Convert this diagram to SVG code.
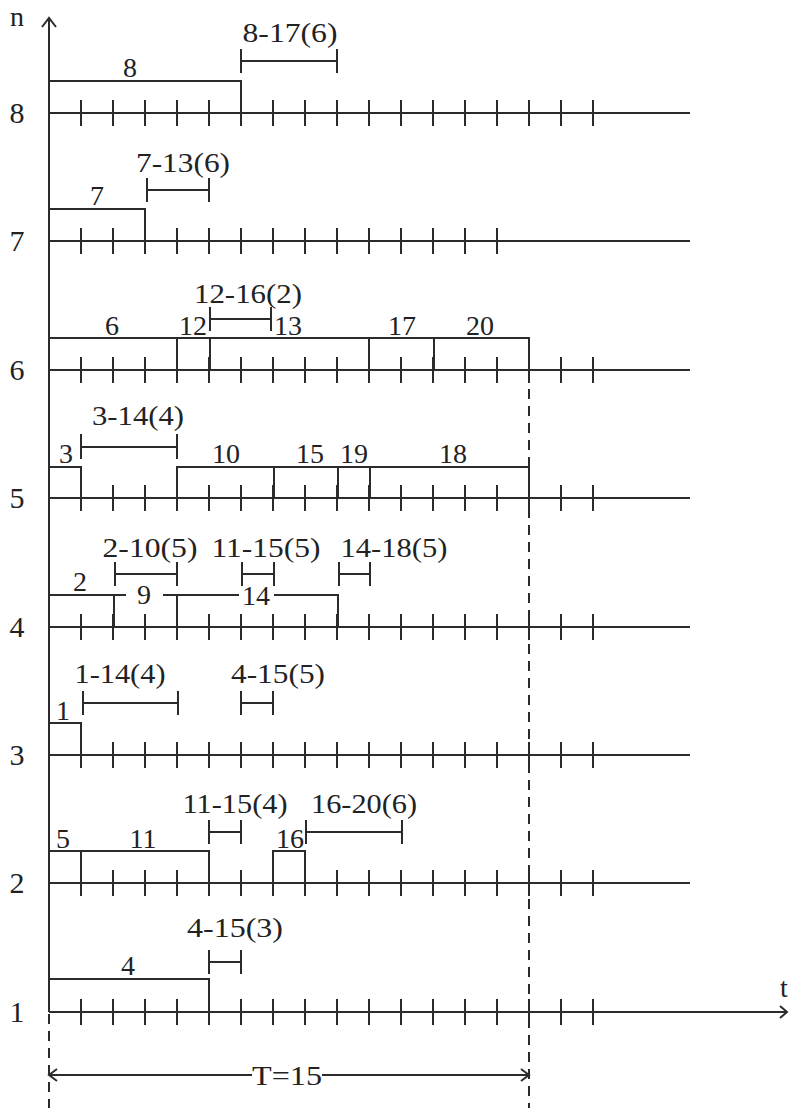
<svg xmlns="http://www.w3.org/2000/svg" width="791" height="1108" viewBox="0 0 791 1108">
<style>
.ln{stroke:#2b2b2b;stroke-width:2;fill:none}
.tk{stroke:#2b2b2b;stroke-width:2;fill:none}
.dash{stroke:#2b2b2b;stroke-width:2;fill:none;stroke-dasharray:10 7}
text{font-family:'Liberation Serif','Times New Roman',serif;fill:#222;font-size:28px}
.m{text-anchor:middle}
.lab{font-size:30px;text-anchor:middle}
</style>
<defs>
<path id="ticks17" class="tk" d="M81 -13V13M113 -13V13M145 -13V13M177 -13V13M209 -13V13M241 -13V13M273 -13V13M305 -13V13M337 -13V13M369 -13V13M401 -13V13M433 -13V13M465 -13V13M497 -13V13M529 -13V13M561 -13V13M593 -13V13"/>
<path id="ticks14" class="tk" d="M81 -13V13M113 -13V13M145 -13V13M177 -13V13M209 -13V13M241 -13V13M273 -13V13M305 -13V13M337 -13V13M369 -13V13M401 -13V13M433 -13V13M465 -13V13M497 -13V13"/>
</defs>
<rect width="791" height="1108" fill="#fff"/>
<g font-family="'Liberation Serif', serif">
<g id="connectors">
  <path class="ln" d="M49 1012V18M42 27L49 18L56 27"/>
  <text x="17" y="26" class="m">n</text>
  <path class="dash" d="M49 1014V1108"/>
  <path class="dash" d="M529 372V1108"/>
  <path class="ln" d="M49 1012H787M780 1006L787 1012L780 1018"/>
  <text x="784" y="997" class="m">t</text>
  <path class="ln" d="M49 1075H252M322 1075H529M57 1069L49 1075L57 1081M521 1069L529 1075L521 1081"/>
  <text x="287" y="1085" class="m" textLength="70" lengthAdjust="spacingAndGlyphs">T=15</text>
</g>

<g id="row8">
  <text x="17" y="123" class="lab">8</text>
  <path class="ln" d="M49 113H690"/>
  <use href="#ticks17" y="113"/>
  <path class="ln" d="M49 113V81H241V113"/>
  <text x="130" y="77" class="m">8</text>
  <path class="ln" d="M241 61H337M241 49V73M337 49V73"/>
  <text x="290" y="42" class="m" textLength="95" lengthAdjust="spacingAndGlyphs">8-17(6)</text>
</g>

<g id="row7">
  <text x="17" y="251" class="lab">7</text>
  <path class="ln" d="M49 241H690"/>
  <use href="#ticks14" y="241"/>
  <path class="ln" d="M49 241V209H145V241"/>
  <text x="97" y="205" class="m">7</text>
  <path class="ln" d="M147 190H209M147 178V202M209 178V202"/>
  <text x="183" y="172" class="m" textLength="94" lengthAdjust="spacingAndGlyphs">7-13(6)</text>
</g>

<g id="row6">
  <text x="17" y="380" class="lab">6</text>
  <path class="ln" d="M49 370H690"/>
  <use href="#ticks17" y="370"/>
  <path class="ln" d="M49 370V338H529V370M177 338V370M210 338V370M369 338V370M434 338V370"/>
  <text x="112" y="335" class="m">6</text>
  <text x="193" y="335" class="m">12</text>
  <text x="288" y="335" class="m">13</text>
  <text x="402" y="335" class="m">17</text>
  <text x="480" y="335" class="m">20</text>
  <path class="ln" d="M210 319H271M210 307V331M271 307V331"/>
  <text x="248" y="303" class="m" textLength="108" lengthAdjust="spacingAndGlyphs">12-16(2)</text>
</g>

<g id="row5">
  <text x="17" y="508" class="lab">5</text>
  <path class="ln" d="M49 498H690"/>
  <use href="#ticks17" y="498"/>
  <path class="ln" d="M49 498V467H81V498"/>
  <path class="ln" d="M177 498V467H529V498M274 467V498M338 467V498M370 467V498"/>
  <text x="66" y="463" class="m">3</text>
  <text x="226" y="463" class="m">10</text>
  <text x="310" y="463" class="m">15</text>
  <text x="354" y="463" class="m">19</text>
  <text x="453" y="463" class="m">18</text>
  <path class="ln" d="M81 447H177M81 434V459M177 434V459"/>
  <text x="138" y="425" class="m" textLength="92" lengthAdjust="spacingAndGlyphs">3-14(4)</text>
</g>

<g id="row4">
  <text x="17" y="637" class="lab">4</text>
  <path class="ln" d="M49 627H690"/>
  <use href="#ticks17" y="627"/>
  <path class="ln" d="M49 627V595H126M163 595H239M274 595H338V627M114 595V627M177 595V627"/>
  <text x="80" y="591" class="m">2</text>
  <text x="144" y="604" class="m">9</text>
  <text x="256" y="605" class="m">14</text>
  <path class="ln" d="M115 574H177M115 562V586M177 562V586"/>
  <path class="ln" d="M242 574H274M242 562V586M274 562V586"/>
  <path class="ln" d="M339 574H370M339 562V586M370 562V586"/>
  <text x="150" y="557" class="m" textLength="95" lengthAdjust="spacingAndGlyphs">2-10(5)</text>
  <text x="266" y="557" class="m" textLength="109" lengthAdjust="spacingAndGlyphs">11-15(5)</text>
  <text x="394" y="557" class="m" textLength="107" lengthAdjust="spacingAndGlyphs">14-18(5)</text>
</g>

<g id="row3">
  <text x="17" y="765" class="lab">3</text>
  <path class="ln" d="M49 755H690"/>
  <use href="#ticks17" y="755"/>
  <path class="ln" d="M49 755V723H81V755"/>
  <text x="63" y="720" class="m">1</text>
  <path class="ln" d="M83 703H178M83 691V715M178 691V715"/>
  <path class="ln" d="M241 703H273M241 691V715M273 691V715"/>
  <text x="120" y="683" class="m" textLength="91" lengthAdjust="spacingAndGlyphs">1-14(4)</text>
  <text x="278" y="683" class="m" textLength="94" lengthAdjust="spacingAndGlyphs">4-15(5)</text>
</g>

<g id="row2">
  <text x="17" y="893" class="lab">2</text>
  <path class="ln" d="M49 883H690"/>
  <use href="#ticks17" y="883"/>
  <path class="ln" d="M49 883V851H209V883M81 851V883"/>
  <path class="ln" d="M273 883V851H305V883"/>
  <text x="63" y="848" class="m">5</text>
  <text x="143" y="848" class="m">11</text>
  <text x="290" y="848" class="m">16</text>
  <path class="ln" d="M209 832H241M209 820V844M241 820V844"/>
  <path class="ln" d="M306 832H402M306 820V844M402 820V844"/>
  <text x="235" y="813" class="m" textLength="105" lengthAdjust="spacingAndGlyphs">11-15(4)</text>
  <text x="364" y="813" class="m" textLength="106" lengthAdjust="spacingAndGlyphs">16-20(6)</text>
</g>

<g id="row1">
  <text x="17" y="1022" class="lab">1</text>
  <use href="#ticks17" y="1012"/>
  <path class="ln" d="M49 1012V979H209V1012"/>
  <text x="128" y="975" class="m">4</text>
  <path class="ln" d="M209 962H241M209 950V974M241 950V974"/>
  <text x="235" y="937" class="m" textLength="96" lengthAdjust="spacingAndGlyphs">4-15(3)</text>
</g>
</g>
</svg>
